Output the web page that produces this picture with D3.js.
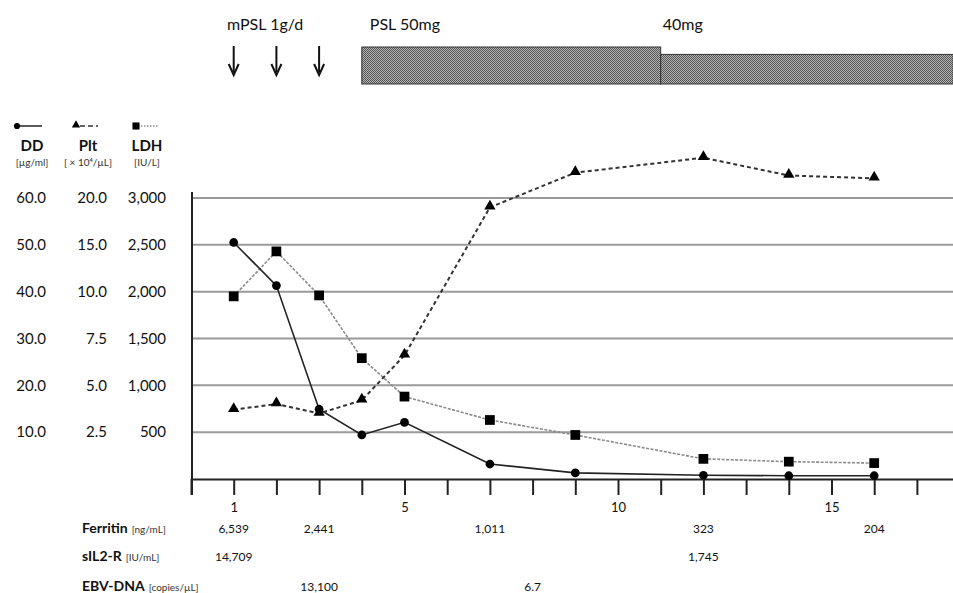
<!DOCTYPE html>
<html>
<head>
<meta charset="utf-8">
<script src="https://cdn.jsdelivr.net/npm/d3@7"></script>
<style>
  body { margin: 0; background: #fff; }
  svg { display: block; font-family: Lato, "Open Sans", sans-serif; }
</style>
</head>
<body>
<div id="chart"></div>
<script>
/*
 * Data (hospital day on x).
 */
var days = [1, 2, 3, 4, 5, 7, 9, 12, 14, 16]
  , dd  = [50.5, 41.3, 14.9, 9.4, 12.1, 3.2, 1.3, 0.8, 0.7, 0.7]
  , plt = [3.7, 4.0, 3.5, 4.2, 6.6, 19.0, 22.7, 24.3, 22.4, 22.1]
  , ldh = [1950, 2430, 1960, 1290, 880, 630, 470, 215, 185, 170];

var ddTicks  = [10, 20, 30, 40, 50, 60]
  , pltTicks = [2.5, 5, 7.5, 10, 15, 20]
  , ldhTicks = [500, 1000, 1500, 2000, 2500, 3000]
  , dayTicks = d3.range(0, 18)
  , dayLabels = [1, 5, 10, 15];

// table rows under the axis
var ferritinDays = [1, 3, 7, 12, 16]
  , ferritinVals = [6539, 2441, 1011, 323, 204]
  , sil2rDays = [1, 12]
  , sil2rVals = [14709, 1745]
  , ebvDays = [3, 8]
  , ebvVals = [13100, 6.7];

// treatment
var mpslDays = [1, 2, 3]
  , pslStart = [4, 11]
  , pslEnd   = [11, 17.85]
  , pslDose  = [50, 40]
  , pslLabel = ["PSL 50mg", "40mg"];

var width = 953
  , height = 593;

var svg = d3.select('#chart').append('svg')
  .attr('width', width)
  .attr('height', height);

var defs = svg.append('defs');
var pat = defs.append('pattern')
  .attr('id', 'checker')
  .attr('width', 2).attr('height', 2)
  .attr('patternUnits', 'userSpaceOnUse');
pat.append('rect').attr('width', 2).attr('height', 2).attr('fill', '#b4b4b4');
pat.append('rect').attr('width', 1).attr('height', 1).attr('fill', '#555');
pat.append('rect').attr('x', 1).attr('y', 1).attr('width', 1).attr('height', 1).attr('fill', '#555');

/*
 * Scales
 */
var x = d3.scaleLinear().domain([0, 18]).range([191, 959.6]);
var yL = d3.scaleLinear().domain([0, 3000]).range([479, 198]);
var yD = d3.scaleLinear().domain([0, 60]).range([479, 198]);
// platelet axis is uneven: 2.5 steps up to 10, then 5 steps
var yP = d3.scaleLinear().domain([0, 10, 20]).range([479, yL(2000), yL(3000)]);
var doseH = d3.scaleLinear().domain([0, 50]).range([0, 37]);

/*
 * Grid lines
 */
svg.append('g').selectAll('line')
  .data(ldhTicks)
  .enter().append('line')
  .attr('x1', 192).attr('x2', width)
  .attr('y1', function(d) { return yL(d); })
  .attr('y2', function(d) { return yL(d); })
  .attr('stroke', '#9a9a9a')
  .attr('stroke-width', 2);

/*
 * Left tick label columns
 */
function column(scale, ticks, fmt, xpos) {
  var g = svg.append('g')
    .attr('transform', 'translate(' + xpos + ',0)')
    .call(d3.axisLeft(scale).tickValues(ticks).tickFormat(fmt).tickSize(0).tickPadding(0));
  g.select('.domain').remove();
  g.selectAll('text')
    .attr('font-family', 'Lato, sans-serif')
    .attr('font-size', 15)
    .attr('fill', '#111');
}
column(yD, ddTicks, d3.format('.1f'), 46);
column(yP, pltTicks, d3.format('.1f'), 107);
column(yL, ldhTicks, d3.format(','), 166);

/*
 * x axis and left frame line
 */
var xa = svg.append('g')
  .attr('transform', 'translate(0,479)')
  .call(d3.axisBottom(x).tickValues(dayTicks).tickSize(16).tickSizeOuter(0)
    .tickFormat(function(d) { return dayLabels.indexOf(d) >= 0 ? d : ''; }));
xa.select('.domain').attr('stroke', '#222').attr('stroke-width', 2);
xa.selectAll('.tick line').attr('stroke', '#222').attr('stroke-width', 2);
xa.selectAll('text')
  .attr('y', 24).attr('dy', '0.71em')
  .attr('font-family', 'Lato, sans-serif')
  .attr('font-size', 13)
  .attr('fill', '#111');

svg.append('line')
  .attr('x1', 192).attr('x2', 192)
  .attr('y1', 192).attr('y2', 495)
  .attr('stroke', '#222').attr('stroke-width', 2);

/*
 * Series
 */
var pts = days.map(function(d, i) {
  return { day: d, dd: dd[i], plt: plt[i], ldh: ldh[i] };
});

function lineFor(scale, key) {
  return d3.line()
    .x(function(d) { return x(d.day); })
    .y(function(d) { return scale(d[key]); });
}

svg.append('path').datum(pts)
  .attr('d', lineFor(yL, 'ldh'))
  .attr('fill', 'none')
  .attr('stroke', '#8a8a8a')
  .attr('stroke-width', 1.6)
  .attr('stroke-dasharray', '3,1.5');

svg.append('path').datum(pts)
  .attr('d', lineFor(yD, 'dd'))
  .attr('fill', 'none')
  .attr('stroke', '#222')
  .attr('stroke-width', 1.6);

svg.append('path').datum(pts)
  .attr('d', lineFor(yP, 'plt'))
  .attr('fill', 'none')
  .attr('stroke', '#333')
  .attr('stroke-width', 2)
  .attr('stroke-dasharray', '4,3');

var sq = d3.symbol().type(d3.symbolSquare).size(95)
  , tri = d3.symbol().type(d3.symbolTriangle).size(55)
  , cir = d3.symbol().type(d3.symbolCircle).size(60);

svg.append('g').selectAll('path')
  .data(pts).enter().append('path')
  .attr('d', sq)
  .attr('transform', function(d) { return 'translate(' + x(d.day) + ',' + yL(d.ldh) + ')'; })
  .attr('fill', '#000');

svg.append('g').selectAll('path')
  .data(pts).enter().append('path')
  .attr('d', tri)
  .attr('transform', function(d) { return 'translate(' + x(d.day) + ',' + (yP(d.plt) - 1) + ')'; })
  .attr('fill', '#000');

svg.append('g').selectAll('path')
  .data(pts).enter().append('path')
  .attr('d', cir)
  .attr('transform', function(d) { return 'translate(' + x(d.day) + ',' + yD(d.dd) + ')'; })
  .attr('fill', '#000');

/*
 * Legend
 */
var leg = svg.append('g');
leg.append('line').attr('x1', 17).attr('x2', 42).attr('y1', 126).attr('y2', 126)
  .attr('stroke', '#222').attr('stroke-width', 1.5);
leg.append('path').attr('d', d3.symbol().type(d3.symbolCircle).size(30))
  .attr('transform', 'translate(17,126)');
leg.append('line').attr('x1', 80).attr('x2', 98).attr('y1', 126).attr('y2', 126)
  .attr('stroke', '#333').attr('stroke-width', 1.5).attr('stroke-dasharray', '5,3');
leg.append('path').attr('d', d3.symbol().type(d3.symbolTriangle).size(30))
  .attr('transform', 'translate(76,125)');
leg.append('line').attr('x1', 138).attr('x2', 158).attr('y1', 126).attr('y2', 126)
  .attr('stroke', '#555').attr('stroke-width', 1).attr('stroke-dasharray', '1.5,1.5');
leg.append('path').attr('d', d3.symbol().type(d3.symbolSquare).size(50))
  .attr('transform', 'translate(136,126)');

var legNames = ['DD', 'Plt', 'LDH']
  , legUnits = ['[\u00b5g/ml]', '[ \u00d7 10\u2074/\u00b5L]', '[IU/L]']
  , legX = [32, 88, 147];

leg.selectAll('text.name')
  .data(legNames).enter().append('text')
  .attr('class', 'name')
  .attr('x', function(d, i) { return legX[i]; })
  .attr('y', 151)
  .attr('text-anchor', 'middle')
  .attr('font-weight', 'bold')
  .attr('font-size', 15)
  .attr('fill', '#111')
  .text(function(d) { return d; });

leg.selectAll('text.unit')
  .data(legUnits).enter().append('text')
  .attr('class', 'unit')
  .attr('x', function(d, i) { return legX[i]; })
  .attr('y', 166)
  .attr('text-anchor', 'middle')
  .attr('font-size', 10)
  .attr('fill', '#333')
  .text(function(d) { return d; });

/*
 * Table below the axis
 */
var rows = [
  { name: 'Ferritin', unit: '[ng/mL]', days: ferritinDays, vals: ferritinVals, y: 533 },
  { name: 'sIL2-R', unit: '[IU/mL]', days: sil2rDays, vals: sil2rVals, y: 561 },
  { name: 'EBV-DNA', unit: '[copies/\u00b5L]', days: ebvDays, vals: ebvVals, y: 591 }
];
var fmt = d3.format(',');

rows.forEach(function(r) {
  var t = svg.append('text')
    .attr('x', 82).attr('y', r.y)
    .attr('fill', '#111');
  t.append('tspan').attr('font-weight', 'bold').attr('font-size', 14).text(r.name);
  t.append('tspan').attr('font-size', 10).attr('dx', 4).attr('fill', '#333').text(r.unit);

  svg.append('g').selectAll('text')
    .data(r.vals).enter().append('text')
    .attr('x', function(d, i) { return x(r.days[i]); })
    .attr('y', r.y)
    .attr('text-anchor', 'middle')
    .attr('font-size', 12)
    .attr('fill', '#111')
    .text(function(d) { return fmt(d); });
});

/*
 * Treatment band at the top
 */
svg.append('text')
  .attr('x', 227).attr('y', 30)
  .attr('font-size', 16).attr('fill', '#111')
  .text('mPSL 1g/d');

var arrows = svg.append('g').selectAll('g')
  .data(mpslDays).enter().append('g')
  .attr('transform', function(d) { return 'translate(' + x(d) + ',0)'; });
arrows.append('line')
  .attr('x1', 0).attr('x2', 0).attr('y1', 46).attr('y2', 72)
  .attr('stroke', '#111').attr('stroke-width', 2);
arrows.append('path')
  .attr('d', 'M-5,64 L0,75 L5,64')
  .attr('fill', 'none')
  .attr('stroke', '#111').attr('stroke-width', 2);

svg.append('g').selectAll('rect')
  .data(pslDose).enter().append('rect')
  .attr('x', function(d, i) { return x(pslStart[i]); })
  .attr('width', function(d, i) { return x(pslEnd[i]) - x(pslStart[i]); })
  .attr('y', function(d) { return 84 - doseH(d); })
  .attr('height', function(d) { return doseH(d); })
  .attr('fill', 'url(#checker)')
  .attr('stroke', '#333')
  .attr('stroke-width', 1);

svg.append('g').selectAll('text')
  .data(pslLabel).enter().append('text')
  .attr('x', function(d, i) { return x(pslStart[i]) + (i === 0 ? 8 : 2); })
  .attr('y', 30)
  .attr('font-size', 16).attr('fill', '#111')
  .text(function(d) { return d; });
</script>
</body>
</html>
